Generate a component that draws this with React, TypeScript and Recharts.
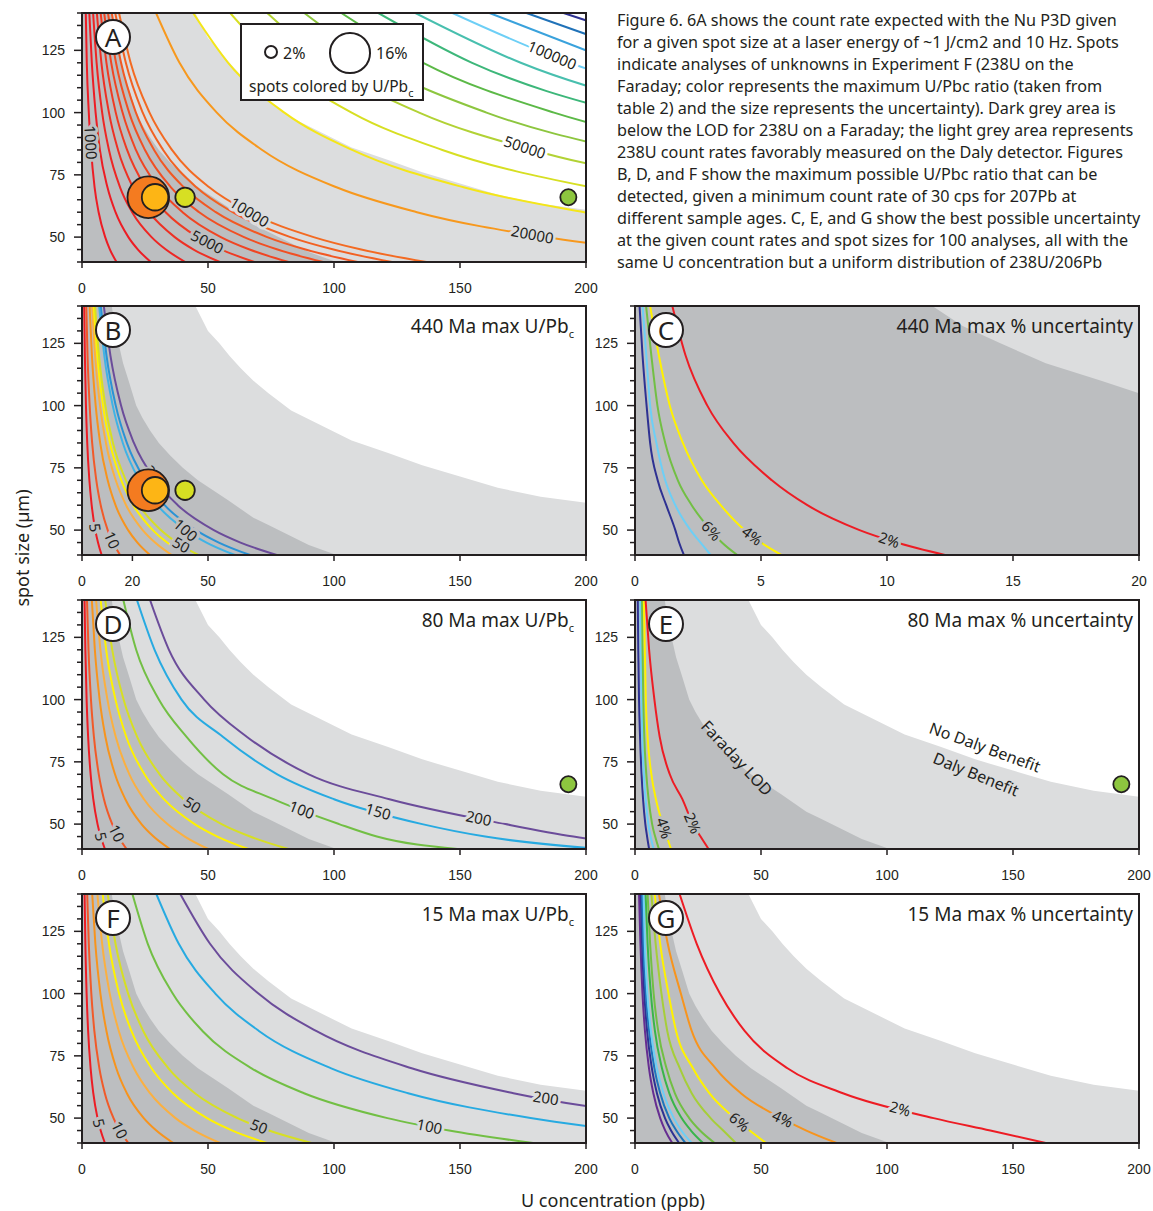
import React from 'react';
import { Area, ComposedChart, Line, Scatter, XAxis, YAxis } from 'recharts';

const INK = '#231f20';
const DARK = '#bcbec0';
const LIGHT = '#dcddde';
const SANS = '"Noto Sans", "Open Sans", sans-serif';
const ARIAL = '"Liberation Sans", Arial, sans-serif';

// spot sizes (µm) at which the U concentration (ppb) of every contour was read
const SPOT_LEVELS = [140, 120, 100, 85, 70, 60, 50, 45, 40];
const Y_TICKS = [40, 45, 50, 55, 60, 65, 70, 75, 80, 85, 90, 95, 100, 105, 110, 115, 120, 125, 130, 135, 140];
const X_TICKS = [0, 50, 100, 150, 200];
const X_TICKS_B = [0, 20, 50, 100, 150, 200];
const X_TICKS_C = [0, 5, 10, 15, 20];

// grey zones (same count-rate boundaries in every panel)
const dalyEdge = [
  { x: 0, y: 140 }, { x: 45, y: 140 }, { x: 47.5, y: 135 }, { x: 50, y: 130 }, { x: 54.5, y: 125 },
  { x: 58.5, y: 120 }, { x: 63, y: 115 }, { x: 68, y: 110 }, { x: 74, y: 105 }, { x: 83, y: 98 },
  { x: 93, y: 93 }, { x: 107, y: 86 }, { x: 121.5, y: 81 }, { x: 135, y: 76 }, { x: 150, y: 71.5 },
  { x: 165, y: 67 }, { x: 182, y: 63.4 }, { x: 200, y: 61 },
];
const faradayLod = [
  { x: 0, y: 140 }, { x: 11.8, y: 140 }, { x: 13, y: 132 }, { x: 14.5, y: 125 }, { x: 16.3, y: 117 },
  { x: 18.5, y: 110 }, { x: 21.5, y: 100 }, { x: 24, y: 95 }, { x: 27, y: 90 }, { x: 30.5, y: 85 },
  { x: 35, y: 80 }, { x: 40, y: 75 }, { x: 46, y: 70 }, { x: 52, y: 66 }, { x: 58, y: 62 },
  { x: 63, y: 58.5 }, { x: 68, y: 55 }, { x: 74, y: 52 }, { x: 80, y: 49 }, { x: 85, y: 46.5 },
  { x: 90, y: 44 }, { x: 95.5, y: 42 }, { x: 101, y: 40 }, { x: 200, y: 40 },
];

// A: count rate (cps)
const countRates = [1000, 2000, 3000, 4000, 5000, 6000, 7000, 8000, 9000, 10000, 20000, 30000, 40000, 50000, 60000, 70000, 80000, 90000, 100000, 110000, 120000, 130000];
const countRateX = [
  [1.5, 1.9, 2.7, 3.6, 5.0, 6.6, 9.2, 11.1, 13.7],
  [2.9, 3.9, 5.4, 7.1, 10.1, 13.3, 18.4, 22.2, 27.3],
  [4.4, 5.8, 8.0, 10.7, 15.1, 19.9, 27.6, 33.3, 41.0],
  [5.9, 7.7, 10.7, 14.3, 20.2, 26.6, 36.8, 44.3, 54.7],
  [7.4, 9.7, 13.4, 17.9, 25.2, 33.2, 45.9, 55.4, 68.4],
  [8.8, 11.6, 16.1, 21.4, 30.3, 39.9, 55.1, 66.5, 82.0],
  [10.3, 13.5, 18.7, 25.0, 35.3, 46.5, 64.3, 77.6, 95.7],
  [11.8, 15.5, 21.4, 28.6, 40.4, 53.1, 73.5, 88.7, 109.4],
  [13.2, 17.4, 24.1, 32.2, 45.4, 59.8, 82.7, 99.8, 123.0],
  [14.7, 19.3, 26.8, 35.7, 50.5, 66.4, 91.9, 110.8, 136.7],
  [29.4, 38.7, 53.5, 71.5, 101, 132.9, 183.8, 221.7],
  [44.1, 58.0, 80.3, 107.2, 151.4, 199.3, 275.7],
  [58.8, 77.4, 107, 143, 201.9],
  [73.5, 96.7, 133.8, 178.7, 252.4],
  [88.2, 116.1, 160.5, 214.4],
  [102.9, 135.4, 187.3, 250.1],
  [117.6, 154.8, 214],
  [132.3, 174.1, 240.8],
  [147, 193.5, 267.5],
  [161.7, 212.8],
  [176.4, 232.1],
  [191.1, 251.5],
];
const countRateColors = ['#ed1c24', '#ed1c24', '#ee2624', '#ee3024', '#ef3b23', '#f04523', '#f14f23', '#f25823', '#f26122', '#f36a22', '#f7981d', '#f4e619', '#d7df23', '#b2d235', '#8dc63f', '#5cb947', '#3db77a', '#48bfae', '#6dcff6', '#3aa2dc', '#2072b8', '#2e3192'];
const countRateLabels = [
  { value: 1000, at: 88, halo: DARK },
  { value: 5000, at: 48, halo: DARK },
  { value: 10000, at: 60, halo: LIGHT },
  { value: 20000, at: 51, halo: LIGHT },
  { value: 50000, at: 86, halo: '#fff' },
  { value: 100000, at: 123, halo: '#fff' },
];

// B, D, F: max U/Pbc
const ratioLevels = [5, 10, 20, 30, 40, 50, 100, 150, 200];
const ratioX440 = [
  [0.87, 1.14, 1.57, 2.08, 2.93, 3.84, 5.28, 6.35, 7.8],
  [1.69, 2.2, 3.04, 4.03, 5.68, 7.43, 10.2, 12.3, 15.1],
  [3.02, 3.94, 5.43, 7.21, 10.2, 13.3, 18.3, 22.0, 27],
  [3.99, 5.2, 7.16, 9.5, 13.4, 17.5, 24.1, 29.0, 35.6],
  [4.65, 6.06, 8.34, 11.1, 15.6, 20.4, 28.1, 33.8, 41.5],
  [5.17, 6.75, 9.29, 12.3, 17.4, 22.7, 31.3, 37.6, 46.2],
  [6.8, 8.86, 12.2, 16.2, 22.8, 29.9, 41.1, 49.4, 60.7],
  [7.47, 9.74, 13.4, 17.8, 25.1, 32.8, 45.2, 54.3, 66.7],
  [8.66, 11.3, 15.5, 20.6, 29.1, 38.0, 52.3, 62.9, 77.3],
];
const ratioX80 = [
  [1.0, 1.33, 1.83, 2.43, 3.42, 4.48, 6.16, 7.41, 9.1],
  [1.98, 2.58, 3.56, 4.73, 6.66, 8.71, 12.0, 14.4, 17.7],
  [3.9, 5.1, 7.0, 9.3, 13.1, 17.2, 23.6, 28.4, 34.9],
  [5.6, 7.3, 10.1, 13.4, 18.8, 24.6, 33.9, 40.8, 50.1],
  [7.4, 9.6, 13.3, 17.6, 24.8, 32.5, 44.7, 53.7, 66],
  [9.2, 12.0, 16.5, 21.9, 30.8, 40.3, 55.4, 66.7, 81.9],
  [16.4, 21.5, 30.5, 41.5, 56, 76, 102, 117, 149],
  [21.8, 28.8, 39.5, 56, 77.5, 100, 135, 160, 206],
  [27, 34.5, 48.5, 65.5, 90, 122, 168, 195, 240],
];
const ratioX15 = [
  [1.02, 1.33, 1.83, 2.43, 3.42, 4.48, 6.16, 7.41, 9.1],
  [2.06, 2.7, 3.7, 4.9, 6.9, 9.05, 12.5, 15.0, 18.4],
  [4.05, 5.3, 7.3, 9.7, 13.6, 17.8, 24.5, 29.5, 36.2],
  [6.1, 8.0, 11.0, 14.6, 20.6, 27.0, 37.1, 44.6, 54.8],
  [8.2, 10.7, 14.7, 19.6, 27.6, 36.1, 49.6, 59.7, 73.3],
  [10.2, 13.3, 18.3, 24.3, 34.3, 44.8, 61.7, 74.2, 91.1],
  [20.0, 26.1, 36.0, 47.8, 67.3, 88.1, 121.2, 145.7, 179],
  [29.5, 38.4, 52.9, 70.2, 98.9, 129.4, 178, 214],
  [39, 50.8, 70, 92.9, 130.8, 171.2, 235.6],
];
const ratioColors440 = ['#ed1c24', '#f15a29', '#f7941d', '#fbb040', '#fff200', '#d7df23', '#3fb3e6', '#2a93d5', '#6b4c9a'];
const ratioColors = ['#ed1c24', '#f15a29', '#f7941d', '#fbb040', '#fff200', '#d7df23', '#72bf44', '#27aae1', '#6b4c9a'];
const ratioLabels440 = [
  { value: 5, at: 51, halo: DARK },
  { value: 10, at: 46, halo: DARK },
  { value: 50, at: 44, halo: DARK },
  { value: 100, at: 50, halo: DARK },
  { value: 200, at: 71, halo: DARK },
];
const ratioLabels80 = [
  { value: 5, at: 45, halo: DARK },
  { value: 10, at: 46.3, halo: DARK },
  { value: 50, at: 57.7, halo: DARK },
  { value: 100, at: 55.7, halo: LIGHT },
  { value: 150, at: 55, halo: LIGHT },
  { value: 200, at: 52.3, halo: LIGHT },
];
const ratioLabels15 = [
  { value: 5, at: 48, halo: DARK },
  { value: 10, at: 45.2, halo: DARK },
  { value: 50, at: 46.6, halo: DARK },
  { value: 100, at: 46.6, halo: LIGHT },
  { value: 200, at: 58, halo: LIGHT },
];

// C, E: max % uncertainty
const uncLevels = [10, 8, 6, 4, 2];
const uncX440 = [
  [0.18, 0.3, 0.46, 0.6, 0.9, 1.24, 1.6, 1.75, 1.94],
  [0.3, 0.45, 0.6, 0.85, 1.2, 1.6, 2.2, 2.6, 3.0],
  [0.44, 0.65, 0.89, 1.2, 1.7, 2.25, 3.0, 3.45, 4.06],
  [0.6, 0.95, 1.38, 1.9, 2.65, 3.4, 4.35, 5.0, 5.82],
  [1.48, 2.01, 2.87, 3.9, 5.43, 6.84, 8.91, 10.38, 12.3],
];
const uncX80 = [
  [1.1, 1.3, 1.6, 2.0, 2.6, 3.2, 4.1, 4.8, 5.6],
  [2.1, 2.3, 2.6, 2.9, 3.5, 4.2, 5.3, 6.2, 7.4],
  [2.8, 3.0, 3.3, 3.7, 4.5, 5.4, 6.8, 8.0, 9.5],
  [3.5, 3.9, 4.3, 5.0, 6.5, 8.3, 11, 12.6, 14.3],
  [4.2, 5.6, 7.7, 9.8, 13.8, 18.8, 23.0, 26, 29.2],
];
const uncColors = ['#2e3192', '#6dcff6', '#72bf44', '#fff200', '#ed1c24'];
const uncLabels440 = [
  { value: 6, at: 49.7, halo: DARK },
  { value: 4, at: 47.7, halo: DARK },
  { value: 2, at: 46, halo: DARK },
];
const uncLabels80 = [
  { value: 4, at: 48.4, halo: DARK },
  { value: 2, at: 50.4, halo: DARK },
];

// G: 15 Ma % uncertainty
const uncLevels15 = [20, 18, 16, 14, 12, 10, 8, 6, 4, 2];
const uncX15 = [
  [1.6, 2.16, 2.97, 3.95, 5.56, 7.28, 10.0, 12.0, 14.8],
  [2.3, 2.8, 3.7, 4.8, 6.7, 8.7, 11.9, 14.3, 17.5],
  [2.8, 3.3, 4.3, 5.6, 7.7, 10.0, 13.6, 16.4, 20],
  [3.4, 3.9, 4.9, 6.3, 8.7, 11.3, 15.4, 18.4, 22.5],
  [4.2, 5.0, 6.3, 7.9, 10.7, 13.6, 18.5, 22.2, 27],
  [5.0, 6.0, 7.4, 9.2, 12.5, 15.8, 21.5, 25.8, 31.6],
  [6.5, 8.2, 10.5, 12.8, 17.8, 22.5, 30, 35, 40],
  [7.8, 10, 13.3, 16.3, 23, 29.5, 39.5, 45.5, 52],
  [9.5, 13, 18.2, 22.5, 32, 42, 58, 68, 80],
  [17.7, 24.5, 33.7, 43.5, 60.5, 82.5, 118.5, 141, 163],
];
const uncColors15 = ['#662d91', '#2e3192', '#1c75bc', '#6dcff6', '#39b54a', '#72bf44', '#a6ce39', '#fff200', '#f7941d', '#ed1c24'];
const uncLabels15 = [
  { value: 6, at: 48.4, halo: DARK },
  { value: 4, at: 49.7, halo: DARK },
  { value: 2, at: 53.7, halo: LIGHT },
];

// Experiment F unknowns
const spotU = [26.3, 29, 40.9, 193];
const spotD = [66, 66, 66, 66];
const spotUnc = [16, 6.5, 3.5, 2.4];
const spotRatio = [20, 30, 50, 100];
const spotRatioColor: Record<number, string> = { 20: '#f47b20', 30: '#fdb515', 50: '#d7df23', 100: '#8dc63f' };
const spotRadius = (u: number) => 5.2 * Math.sqrt(u);

const CAPTION = [
  'Figure 6. 6A shows the count rate expected with the Nu P3D given',
  'for a given spot size at a laser energy of ~1 J/cm2 and 10 Hz.  Spots',
  'indicate analyses of unknowns in Experiment F (238U on the',
  'Faraday; color represents the maximum U/Pbc ratio (taken from',
  'table 2) and the size represents the uncertainty). Dark grey area is',
  'below the LOD for 238U on a Faraday; the light grey area represents',
  '238U count rates favorably measured on the Daly detector. Figures',
  'B, D, and F show the maximum possible U/Pbc ratio that can be',
  'detected, given a minimum count rate of 30 cps for 207Pb at',
  'different sample ages. C, E, and G show the best possible uncertainty',
  'at the given count rates and spot sizes for 100 analyses, all with the',
  'same U concentration but a uniform distribution of 238U/206Pb',
];

const PW = 504;
const PH = 249;

type Label = { value: number; at: number; halo: string };

const YTick = (p: any) => {
  const v = p.payload.value;
  const major = v % 25 === 0;
  return (
    <g>
      <line x1={p.x} x2={p.x - (major ? 8 : 5)} y1={p.y} y2={p.y} stroke={INK} strokeWidth={1.5} />
      {major && (
        <text x={p.x - 17} y={p.y} dy="0.36em" textAnchor="end" fontFamily={ARIAL} fontSize={14} fill={INK}>
          {v}
        </text>
      )}
    </g>
  );
};

const XTick = (p: any) => (
  <g>
    <line x1={p.x} x2={p.x} y1={p.y} y2={p.y + 6} stroke={INK} strokeWidth={1.5} />
    <text x={p.x} y={p.y + 21} dy="0.72em" textAnchor="middle" fontFamily={ARIAL} fontSize={14} fill={INK}>
      {p.payload.value}
    </text>
  </g>
);

// draws the contour label on the last dot, once all point positions of the line are known
function labelDot(text: string, at: number, halo: string, count: number) {
  const pts: { cx: number; cy: number; y: number }[] = [];
  return (p: any) => {
    pts[p.index] = { cx: p.cx, cy: p.cy, y: p.payload.y };
    if (p.index !== count - 1) return <g key={`d${p.index}`} />;
    let i = 0;
    while (i < count - 2 && pts[i + 1].y > at) i += 1;
    const a = pts[i];
    const b = pts[i + 1];
    const t = (a.y - at) / (a.y - b.y);
    const cx = a.cx + (b.cx - a.cx) * t;
    const cy = a.cy + (b.cy - a.cy) * t;
    let ang = (Math.atan2(b.cy - a.cy, b.cx - a.cx) * 180) / Math.PI;
    if (ang > 90) ang -= 180;
    if (ang < -90) ang += 180;
    return (
      <text
        key={`d${p.index}`}
        x={cx}
        y={cy}
        dy="0.36em"
        transform={`rotate(${ang} ${cx} ${cy})`}
        textAnchor="middle"
        fontFamily={SANS}
        fontSize={15}
        fill={INK}
        stroke={halo}
        strokeWidth={6}
        strokeLinejoin="round"
        paintOrder="stroke"
      >
        {text}
      </text>
    );
  };
}

interface PanelProps {
  x0: number;
  y0: number;
  xMax: number;
  xTicks: number[];
  values: number[];
  xs: number[][];
  colors: string[];
  labels: Label[];
  unit?: string;
  spots?: number[];
  letter: string;
  title?: React.ReactNode;
  wide?: boolean;
}

function Panel({ x0, y0, xMax, xTicks, values, xs, colors, labels, unit = '', spots = [], letter, title, wide }: PanelProps) {
  const curves = xs.map((row) => row.map((x, i) => ({ x, y: SPOT_LEVELS[i] })));
  const spotData = spots.map((k) => ({ x: spotU[k], y: spotD[k], u: spotUnc[k], ratio: spotRatio[k] }));
  return (
    <>
      <div style={{ position: 'absolute', left: x0 - 60, top: y0 - 10 }}>
        <ComposedChart width={60 + PW + 24} height={10 + PH + 40} margin={{ top: 10, right: 24, bottom: 0, left: 0 }}>
          <XAxis
            type="number"
            dataKey="x"
            domain={[0, xMax]}
            allowDataOverflow
            ticks={xTicks}
            interval={0}
            height={40}
            axisLine={false}
            tickLine={false}
            tickSize={0}
            tickMargin={0}
            tick={(p: any) => <XTick {...p} />}
          />
          <YAxis
            type="number"
            dataKey="y"
            domain={[40, 140]}
            allowDataOverflow
            ticks={Y_TICKS}
            interval={0}
            width={60}
            axisLine={false}
            tickLine={false}
            tickSize={0}
            tickMargin={0}
            tick={(p: any) => <YTick {...p} />}
          />
          <Area data={dalyEdge} dataKey="y" type="linear" baseValue={40} fill={LIGHT} fillOpacity={1} stroke="none" dot={false} activeDot={false} isAnimationActive={false} />
          <Area data={faradayLod} dataKey="y" type="linear" baseValue={40} fill={DARK} fillOpacity={1} stroke="none" dot={false} activeDot={false} isAnimationActive={false} />
          {curves.map((c, k) => (
            <Line key={`c${k}`} data={c} dataKey="y" type="monotone" stroke={colors[k]} strokeWidth={2} dot={false} activeDot={false} isAnimationActive={false} />
          ))}
          {labels.map((l) => {
            const k = values.indexOf(l.value);
            const c = curves[k];
            return (
              <Line
                key={`l${l.value}`}
                data={c}
                dataKey="y"
                stroke="none"
                dot={labelDot(`${l.value}${unit}`, l.at, l.halo, c.length)}
                activeDot={false}
                isAnimationActive={false}
              />
            );
          })}
          {spotData.length > 0 && (
            <Scatter
              data={spotData}
              isAnimationActive={false}
              shape={(p: any) => (
                <circle cx={p.cx} cy={p.cy} r={spotRadius(p.payload.u)} fill={spotRatioColor[p.payload.ratio]} stroke={INK} strokeWidth={1.8} />
              )}
            />
          )}
        </ComposedChart>
      </div>
      <div style={{ position: 'absolute', left: x0 - 1, top: y0 - 1, width: PW + 2, height: PH + 2, border: `2px solid ${INK}`, boxSizing: 'border-box' }} />
      <div
        style={{
          position: 'absolute',
          left: x0 + 31 - 18,
          top: y0 + 23.5 - 18,
          width: 36,
          height: 36,
          boxSizing: 'border-box',
          border: `2px solid ${INK}`,
          borderRadius: '50%',
          background: '#fff',
          display: 'flex',
          alignItems: 'center',
          justifyContent: 'center',
          fontSize: 26,
          lineHeight: 1,
        }}
      >
        {letter}
      </div>
      {title && (
        <div style={{ position: 'absolute', left: x0, top: y0 + 10, width: wide ? 498 : 492, textAlign: 'right', fontSize: 19, lineHeight: '20px', whiteSpace: 'nowrap' }}>
          {title}
        </div>
      )}
    </>
  );
}

const Sub = ({ children }: { children: React.ReactNode }) => (
  <span style={{ fontSize: 11, verticalAlign: '-5px' }}>{children}</span>
);

function Rotated({ x, y, angle, size, children }: { x: number; y: number; angle: number; size: number; children: React.ReactNode }) {
  return (
    <div style={{ position: 'absolute', left: x, top: y, transform: `translate(-50%, -50%) rotate(${angle}deg)`, fontSize: size, whiteSpace: 'nowrap', lineHeight: 1 }}>
      {children}
    </div>
  );
}

const LegendDot = ({ x, y, u }: { x: number; y: number; u: number }) => {
  const r = spotRadius(u);
  return (
    <div style={{ position: 'absolute', left: x - r, top: y - r, width: 2 * r, height: 2 * r, boxSizing: 'border-box', border: `2px solid ${INK}`, borderRadius: '50%', background: '#fff' }} />
  );
};

export default function App() {
  return (
    <div style={{ position: 'absolute', left: 0, top: 0, width: 1153, height: 1211, overflow: 'hidden', background: '#fff', fontFamily: SANS, color: INK }}>
      <Panel x0={82} y0={13} xMax={200} xTicks={X_TICKS} values={countRates} xs={countRateX} colors={countRateColors} labels={countRateLabels} spots={[0, 1, 2, 3]} letter="A" />
      <Panel x0={82} y0={306} xMax={200} xTicks={X_TICKS_B} values={ratioLevels} xs={ratioX440} colors={ratioColors440} labels={ratioLabels440} spots={[0, 1, 2]} letter="B" title={<>440 Ma max U/Pb<Sub>c</Sub></>} />
      <Panel x0={635} y0={306} xMax={20} xTicks={X_TICKS_C} values={uncLevels} xs={uncX440} colors={uncColors} labels={uncLabels440} unit="%" letter="C" wide title="440 Ma max % uncertainty" />
      <Panel x0={82} y0={600} xMax={200} xTicks={X_TICKS} values={ratioLevels} xs={ratioX80} colors={ratioColors} labels={ratioLabels80} spots={[3]} letter="D" title={<>80 Ma max U/Pb<Sub>c</Sub></>} />
      <Panel x0={635} y0={600} xMax={200} xTicks={X_TICKS} values={uncLevels} xs={uncX80} colors={uncColors} labels={uncLabels80} unit="%" spots={[3]} letter="E" wide title="80 Ma max % uncertainty" />
      <Panel x0={82} y0={894} xMax={200} xTicks={X_TICKS} values={ratioLevels} xs={ratioX15} colors={ratioColors} labels={ratioLabels15} letter="F" title={<>15 Ma max U/Pb<Sub>c</Sub></>} />
      <Panel x0={635} y0={894} xMax={200} xTicks={X_TICKS} values={uncLevels15} xs={uncX15} colors={uncColors15} labels={uncLabels15} unit="%" letter="G" wide title="15 Ma max % uncertainty" />

      {/* legend of panel A */}
      <div style={{ position: 'absolute', left: 240, top: 23, width: 184, height: 78, boxSizing: 'border-box', border: `2px solid ${INK}`, background: '#fff' }}>
        <LegendDot x={29} y={27} u={2} />
        <div style={{ position: 'absolute', left: 41, top: 18, fontSize: 16, lineHeight: '20px' }}>2%</div>
        <LegendDot x={108} y={28} u={16} />
        <div style={{ position: 'absolute', left: 134, top: 18, fontSize: 16, lineHeight: '20px' }}>16%</div>
        <div style={{ position: 'absolute', left: 7, top: 51, fontSize: 15.5, lineHeight: '20px', whiteSpace: 'nowrap' }}>
          spots colored by U/Pb<Sub>c</Sub>
        </div>
      </div>

      {/* panel E notes */}
      <Rotated x={737} y={758} angle={47} size={16}>Faraday LOD</Rotated>
      <Rotated x={985} y={747} angle={20} size={16}>No Daly Benefit</Rotated>
      <Rotated x={976} y={774} angle={22} size={16}>Daly Benefit</Rotated>

      <div style={{ position: 'absolute', left: 617, top: 9, fontSize: 16.2, lineHeight: '22px', whiteSpace: 'nowrap' }}>
        {CAPTION.map((t, i) => (
          <div key={i}>{t}</div>
        ))}
      </div>

      <Rotated x={22} y={548} angle={-90} size={18}>spot size (µm)</Rotated>
      <Rotated x={613} y={1200} angle={0} size={18}>U concentration (ppb)</Rotated>
    </div>
  );
}
